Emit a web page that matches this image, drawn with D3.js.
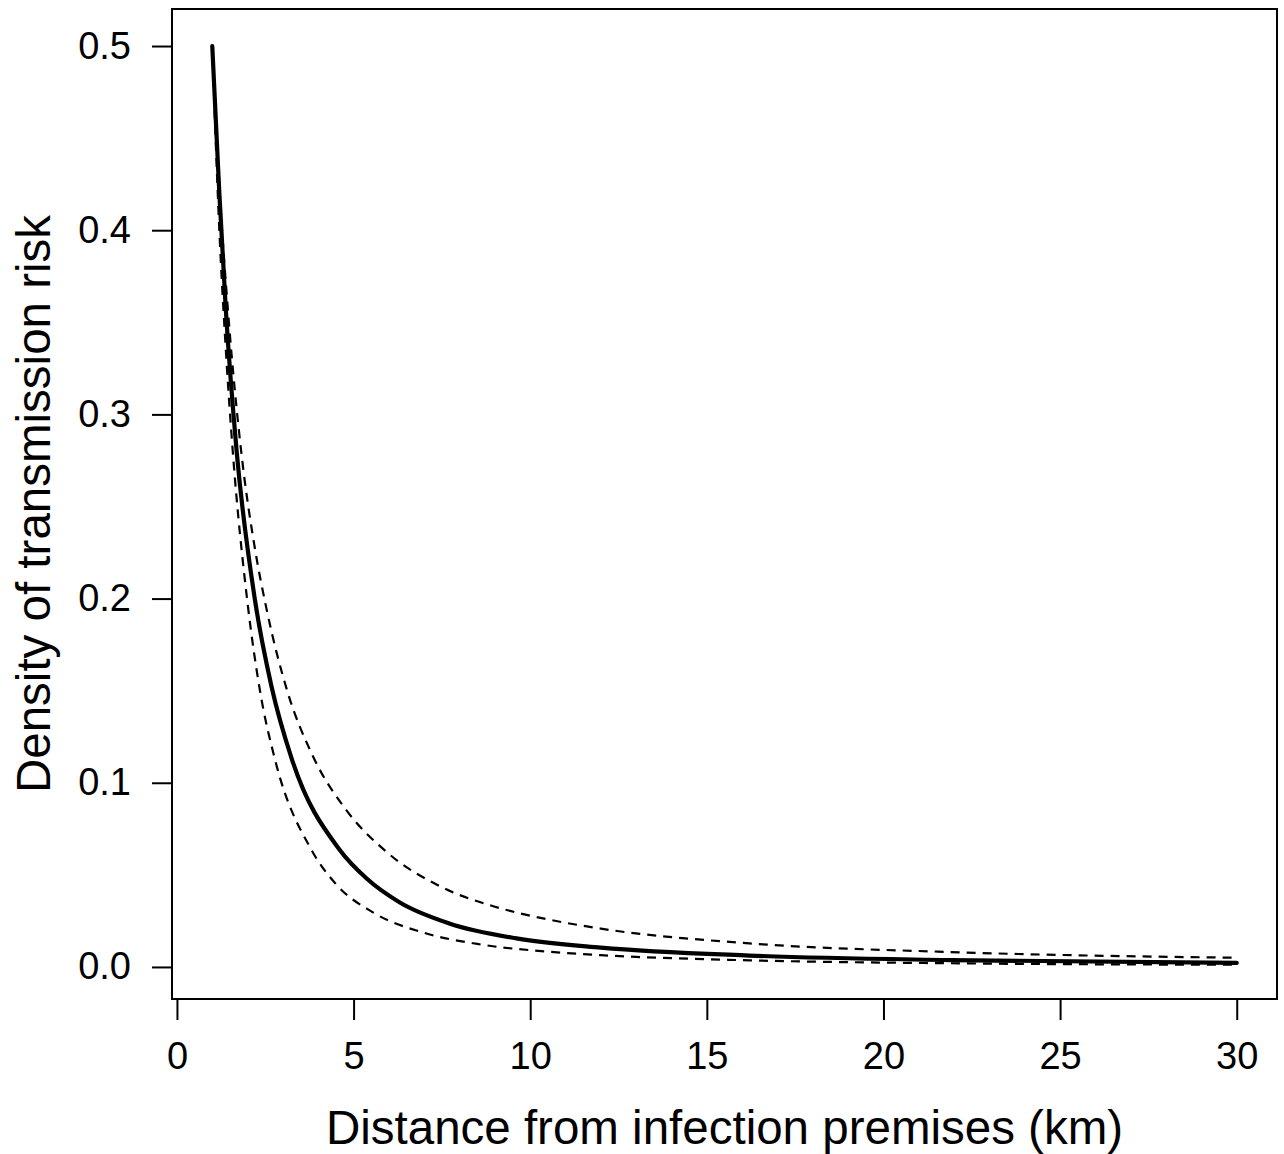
<!DOCTYPE html>
<html>
<head>
<meta charset="utf-8">
<script src="https://cdn.jsdelivr.net/npm/d3@7"></script>
<style>
  html, body { margin: 0; padding: 0; background: #fff; }
  svg { display: block; }
  text { font-family: "Liberation Sans", Arial, Helvetica, sans-serif; fill: #000; }
</style>
</head>
<body>
<svg id="chart" width="1284" height="1154"></svg>
<script>
// ---- data ----
const xTicks = [0, 5, 10, 15, 20, 25, 30];
const yTicks = [0.0, 0.1, 0.2, 0.3, 0.4, 0.5];
const yTickLabels = ["0.0", "0.1", "0.2", "0.3", "0.4", "0.5"];
const xTitle = "Distance from infection premises (km)";
const yTitle = "Density of transmission risk";

// central estimate (solid)
const estDist = [1, 1.2, 1.38, 1.69, 2.21, 2.68, 3.25, 4.61, 5.37, 6.31, 7.73, 9.61, 12, 16.2, 21.9, 30];
const estVal  = [0.5, 0.42, 0.358, 0.28, 0.199, 0.152, 0.113, 0.0635, 0.048, 0.035, 0.0235, 0.0155, 0.0105, 0.0062, 0.0037, 0.0022];

// lower bound (dashed)
const lowDist = [1, 1.2, 1.4, 1.58, 1.99, 2.35, 2.77, 3.81, 4.5, 5.56, 7.0, 8.5, 10.56, 12.0, 16.2, 21.9, 30];
const lowVal  = [0.5, 0.40, 0.33, 0.28, 0.199, 0.150, 0.113, 0.0635, 0.045, 0.0295, 0.0185, 0.0125, 0.0082, 0.0064, 0.0036, 0.0020, 0.0012];

// upper bound (dashed)
const upDist = [1, 1.2, 1.45, 1.83, 2.2, 2.54, 3.12, 3.86, 4.8, 5.93, 7.5, 9.0, 10.56, 12.0, 16.2, 21.9, 30];
const upVal  = [0.5, 0.424, 0.355, 0.278, 0.228, 0.194, 0.150, 0.114, 0.085, 0.0625, 0.0433, 0.0327, 0.0256, 0.0208, 0.0128, 0.0081, 0.0050];

// ---- layout ----
const svg = d3.select("#chart");
const plot = { left: 172, right: 1277, top: 9, bottom: 999 };

const x = d3.scaleLinear().domain([-0.14, 31.14]).range([plot.left, plot.right]);
const y = d3.scaleLinear().domain([-0.0174, 0.5201]).range([plot.bottom, plot.top]);

// curves
const line = d3.line().x(d => x(d[0])).y(d => y(d[1])).curve(d3.curveMonotoneX);

const g = svg.append("g");
g.append("path")
  .datum(d3.zip(lowDist, lowVal))
  .attr("d", line)
  .attr("fill", "none").attr("stroke", "#000").attr("stroke-width", 2.2)
  .attr("stroke-dasharray", "9,7");
g.append("path")
  .datum(d3.zip(upDist, upVal))
  .attr("d", line)
  .attr("fill", "none").attr("stroke", "#000").attr("stroke-width", 2.2)
  .attr("stroke-dasharray", "9,7");
g.append("path")
  .datum(d3.zip(estDist, estVal))
  .attr("d", line)
  .attr("fill", "none").attr("stroke", "#000").attr("stroke-width", 4.2)
  .attr("stroke-linecap", "round");

// box
svg.append("rect")
  .attr("x", plot.left).attr("y", plot.top)
  .attr("width", plot.right - plot.left).attr("height", plot.bottom - plot.top)
  .attr("fill", "none").attr("stroke", "#000").attr("stroke-width", 2);

// x axis
const xAxis = d3.axisBottom(x).tickValues(xTicks).tickSize(21).tickPadding(0).tickFormat(d3.format("d"));
const gx = svg.append("g").attr("transform", `translate(0,${plot.bottom})`).call(xAxis);
gx.select(".domain").remove();
gx.selectAll(".tick line").attr("stroke", "#000").attr("stroke-width", 2);
gx.selectAll(".tick text")
  .attr("font-size", 38).attr("font-family", "Liberation Sans, Arial, sans-serif")
  .attr("dy", null).attr("y", 70);

// y axis
const yAxis = d3.axisLeft(y).tickValues(yTicks).tickSize(20).tickPadding(0)
  .tickFormat((d, i) => yTickLabels[i]);
const gy = svg.append("g").attr("transform", `translate(${plot.left},0)`).call(yAxis);
gy.select(".domain").remove();
gy.selectAll(".tick line").attr("stroke", "#000").attr("stroke-width", 2);
gy.selectAll(".tick text")
  .attr("font-size", 38).attr("font-family", "Liberation Sans, Arial, sans-serif")
  .attr("x", -41).attr("dy", null).attr("y", 12);

// titles
svg.append("text")
  .attr("x", (plot.left + plot.right) / 2).attr("y", 1144)
  .attr("text-anchor", "middle").attr("font-size", 47.5)
  .text(xTitle);
svg.append("text")
  .attr("transform", `translate(50,${(plot.top + plot.bottom) / 2}) rotate(-90)`)
  .attr("text-anchor", "middle").attr("font-size", 47.5)
  .text(yTitle);
</script>
</body>
</html>
